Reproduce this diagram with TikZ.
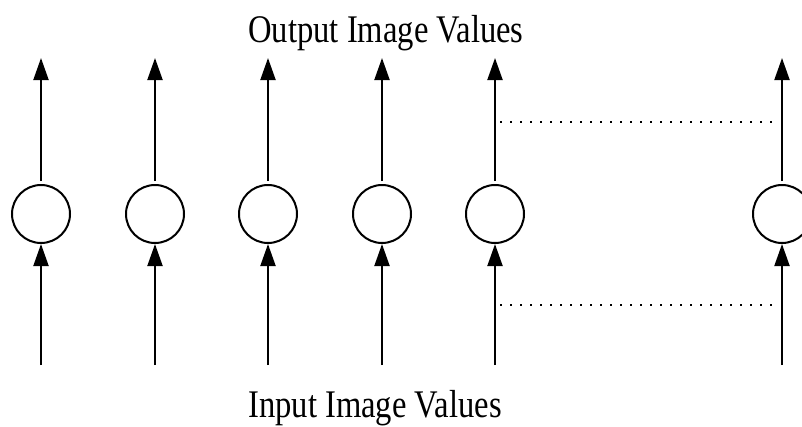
\documentclass[tikz,border=0pt]{standalone}
\usepackage{fontspec}
\setmainfont{Liberation Serif}
\usetikzlibrary{arrows.meta}
\begin{document}
\begin{tikzpicture}[x=1pt,y=-1pt,
  unit/.style={circle, draw, line width=2pt, minimum size=58pt, inner sep=0pt},
  flow/.style={line width=2pt, -{Triangle[length=22pt,width=15pt]}},
  link/.style={line width=2pt, dash pattern=on 2pt off 8pt},
  caption/.style={anchor=base, yscale=1.2, font=\fontsize{32.6}{36}\selectfont}]
\useasboundingbox (0,0) rectangle (802,426);

% labels
\node[caption] (outlbl) at (386,42) {Output Image Values};
\node[caption] (inlbl)  at (375,417) {Input Image Values};

% units with their input and output connectors
\foreach \i/\x in {1/41,2/155,3/268,4/382,5/495,6/782} {
  \node[unit] (c\i) at (\x,214) {};
  \coordinate (in\i) at (\x,365);
  \coordinate (out\i) at (\x,58);
  \draw[flow] (in\i) -- (c\i.south);
  \draw[flow, shorten <=3pt] (c\i.north) -- (out\i);
}

% dotted lines marking the omitted units
\coordinate (ta) at (500,122);
\coordinate (tb) at (779,122);
\coordinate (ba) at (500,305);
\coordinate (bb) at (779,305);
\draw[link] (ta) -- (tb);
\draw[link] (ba) -- (bb);
\end{tikzpicture}
\end{document}
